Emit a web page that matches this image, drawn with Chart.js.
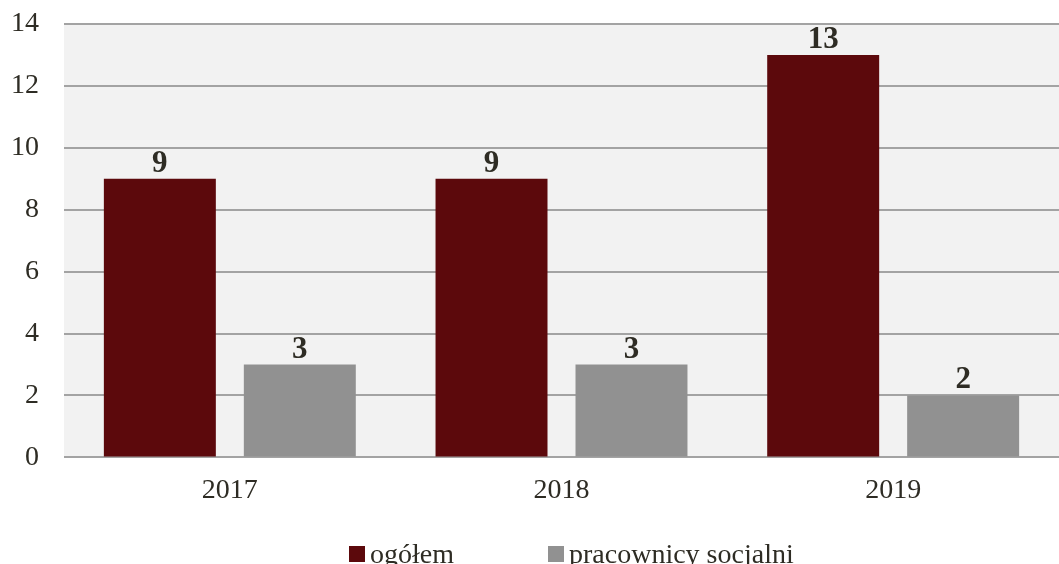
<!DOCTYPE html>
<html>
<head>
<meta charset="utf-8">
<script src="https://cdn.jsdelivr.net/npm/chart.js@4/dist/chart.umd.min.js"></script>
<style>
  html, body { margin: 0; padding: 0; background: #fff; }
  #wrap { width: 1059px; height: 564px; }
</style>
</head>
<body>
<div id="wrap"><canvas id="myChart" width="1059" height="564"></canvas></div>
<script>
const years = ['2017', '2018', '2019'];
const ogolem = [9, 9, 13];
const pracownicy = [3, 3, 2];
const seriesNames = ['ogółem', 'pracownicy socjalni'];
const yTicks = [0, 2, 4, 6, 8, 10, 12, 14];

const FONT = "'Liberation Serif', serif";
const TEXT = '#2e2c24';

// grey plot background
const plotBg = {
    id: 'plotBg',
    beforeDraw(chart) {
        const { ctx, chartArea: a } = chart;
        ctx.save();
        ctx.fillStyle = '#f2f2f2';
        ctx.fillRect(a.left, a.top, a.right - a.left, a.bottom - a.top);
        ctx.restore();
    }
};

// bold value above each bar
const barValues = {
    id: 'barValues',
    afterDatasetsDraw(chart) {
        const ctx = chart.ctx;
        ctx.save();
        ctx.font = 'bold 31px ' + FONT;
        ctx.fillStyle = TEXT;
        ctx.textAlign = 'center';
        ctx.textBaseline = 'alphabetic';
        chart.data.datasets.forEach((ds, i) => {
            chart.getDatasetMeta(i).data.forEach((bar, j) => {
                ctx.fillText(String(ds.data[j]), bar.x, bar.y - 7);
            });
        });
        ctx.restore();
    }
};

// legend drawn by hand so the wide gap between items matches
const bottomLegend = {
    id: 'bottomLegend',
    afterDraw(chart) {
        const ctx = chart.ctx;
        ctx.save();
        ctx.font = '28px ' + FONT;
        ctx.textBaseline = 'alphabetic';
        ctx.textAlign = 'left';
        let x = 349;
        const y = 563;
        chart.data.datasets.forEach((ds) => {
            ctx.fillStyle = ds.backgroundColor;
            ctx.fillRect(x, 546, 16, 16);
            ctx.fillStyle = TEXT;
            ctx.fillText(ds.label, x + 21, y);
            x += 199;
        });
        ctx.restore();
    }
};

new Chart(document.getElementById('myChart'), {
    type: 'bar',
    data: {
        labels: years,
        datasets: [
            { label: seriesNames[0], data: ogolem, backgroundColor: '#5c090c' },
            { label: seriesNames[1], data: pracownicy, backgroundColor: '#919191' }
        ]
    },
    options: {
        responsive: false,
        animation: false,
        layout: { padding: { top: 24, left: 0, right: 0, bottom: 41 } },
        datasets: {
            bar: { categoryPercentage: 0.844, barPercentage: 0.8 }
        },
        plugins: {
            legend: { display: false },
            tooltip: { enabled: false }
        },
        scales: {
            x: {
                grid: { display: false, drawTicks: false },
                border: { display: false },
                ticks: { color: TEXT, font: { family: FONT, size: 28 }, padding: 16 }
            },
            y: {
                min: 0,
                max: 14,
                afterBuildTicks(axis) {
                    axis.ticks = yTicks.map(v => ({ value: v }));
                },
                afterFit(axis) {
                    axis.width = 64;
                    axis.paddingTop = 0;
                    axis.paddingBottom = 0;
                },
                grid: { color: '#a3a3a3', lineWidth: 2, drawTicks: false },
                border: { display: false },
                ticks: { color: TEXT, font: { family: FONT, size: 28 }, padding: 25 }
            }
        }
    },
    plugins: [plotBg, barValues, bottomLegend]
});
</script>
</body>
</html>
